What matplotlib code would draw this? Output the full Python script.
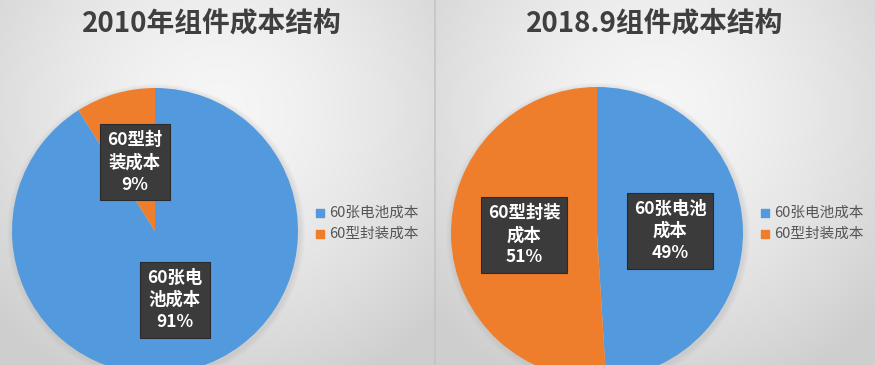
import matplotlib.pyplot as plt
import numpy as np

plt.rcParams['font.family'] = ['Noto Sans CJK SC', 'DejaVu Sans']

# data
titles = ['2010年组件成本结构', '2018.9组件成本结构']
legend_names = ['60张电池成本', '60型封装成本']
values_2010 = [91, 9]
values_2018 = [49, 51]
box_labels_2010 = ['60张电\n池成本', '60型封\n装成本']
box_labels_2018 = ['60张电池\n成本', '60型封装\n成本']
colors = ['#5399dd', '#ef7e2c']

W, H = 875, 365
fig = plt.figure(figsize=(W / 100, H / 100), dpi=100)
ax = fig.add_axes([0, 0, 1, 1])

# background: greyish, lighter near the top centre of each panel
yy, xx = np.mgrid[0:H, 0:W]
bg = np.zeros((H, W))
for cx, x0, x1 in [(218, 0, 435), (655, 435, W)]:
    d = np.sqrt(((xx - cx) / 320.0) ** 2 + ((yy - 110) / 320.0) ** 2)
    m = (xx >= x0) & (xx < x1)
    bg[m] = (0.965 - 0.17 * d ** 1.5)[m]
bg = np.clip(bg, 0.81, 0.975)
ax.imshow(np.dstack([bg, bg, bg]), extent=[0, W, 0, H], origin='upper', zorder=0)
ax.plot([435, 435], [0, H], color='#c4c4c4', lw=1.2, zorder=1)

panels = [
    (values_2010, box_labels_2010, (155, H - 231), 143, titles[0], 212, 320),
    (values_2018, box_labels_2018, (597, H - 233), 146, titles[1], 655, 765),
]

for vals, labs, center, r, title, tx, lx in panels:
    # soft shadow
    for k in range(6):
        circ = plt.Circle((center[0] + 1, center[1] - 2), r + 6 - k, color='#b0b0b0',
                          alpha=0.06, lw=0, zorder=1)
        ax.add_patch(circ)
    wedges, _ = ax.pie(vals, colors=colors, startangle=90, counterclock=False,
                       center=center, radius=r,
                       wedgeprops=dict(linewidth=0, zorder=2))
    for w in wedges:
        w.set_zorder(2)
    for w, lab, v in zip(wedges, labs, vals):
        ang = np.deg2rad((w.theta1 + w.theta2) / 2)
        px = center[0] + 0.5 * r * np.cos(ang)
        py = center[1] + 0.5 * r * np.sin(ang)
        ax.text(px, py, '%s\n%d%%' % (lab, v), ha='center', va='center',
                color='white', fontsize=12.5, fontweight='bold', linespacing=1.3,
                zorder=5,
                bbox=dict(boxstyle='square,pad=0.4', fc='#3b3b3b', ec='#2a2a2a', lw=0.8))
    ax.text(tx, H - 23, title, ha='center', va='center', fontsize=20,
            fontweight='bold', color='#3f3f3f', zorder=5)
    for i, (name, c) in enumerate(zip(legend_names, colors)):
        ly = H - 213 - i * 21
        ax.scatter([lx], [ly], marker='s', s=34, color=c, zorder=5)
        ax.text(lx + 9, ly, name, ha='left', va='center', fontsize=10.5,
                color='#555555', zorder=5)

ax.set_xlim(0, W)
ax.set_ylim(0, H)
ax.set_aspect('auto')
ax.axis('off')

fig.savefig('out.png', dpi=100)
